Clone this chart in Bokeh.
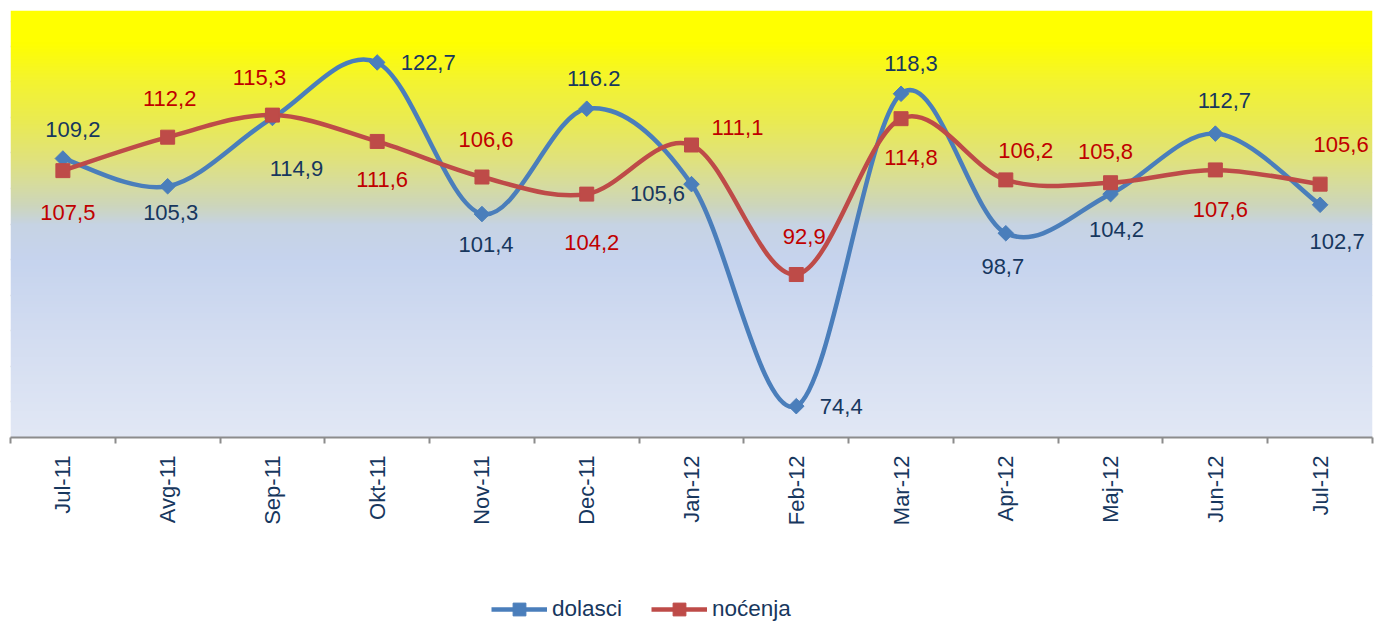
import math
import numpy as np
from bokeh.plotting import figure
from bokeh.layouts import column
from bokeh.models import (ColumnDataSource, FixedTicker, Legend, LegendItem,
                          Range1d, Grid)
from bokeh.core.properties import value
from bokeh.embed import file_html
from bokeh.resources import INLINE

# ---------------- data ----------------
months = ["Jul-11", "Avg-11", "Sep-11", "Okt-11", "Nov-11", "Dec-11", "Jan-12",
          "Feb-12", "Mar-12", "Apr-12", "Maj-12", "Jun-12", "Jul-12"]
dolasci = [109.2, 105.3, 114.9, 122.7, 101.4, 116.2, 105.6,
           74.4, 118.3, 98.7, 104.2, 112.7, 102.7]
nocenja = [107.5, 112.2, 115.3, 111.6, 106.6, 104.2, 111.1,
           92.9, 114.8, 106.2, 105.8, 107.6, 105.6]
dolasci_labels = ["109,2", "105,3", "114,9", "122,7", "101,4", "116.2", "105,6",
                  "74,4", "118,3", "98,7", "104,2", "112,7", "102,7"]
nocenja_labels = ["107,5", "112,2", "115,3", "111,6", "106,6", "104,2", "111,1",
                  "92,9", "114,8", "106,2", "105,8", "107,6", "105,6"]
series_names = ["dolasci", "noćenja"]
y_ticks = [75, 80, 85, 90, 95, 100, 105, 110, 115, 120, 125, 130]
y_min, y_max = 70, 130

# ---------------- styles ----------------
BLUE = "#4A7EBB"
RED = "#BE4B48"
NAVY = "#17375E"
LABEL_RED = "#C00000"
FONT = "Liberation Sans"

# label offsets in screen pixels (dx, dy; dy positive = down)
d_dx = [10, 3, 24, 51, 4, 7, -34, 45, 10, -3, 6, 9, 17]
d_dy = [-29, 26, 51, 0, 30, -30, 9, 0, -30, 33, 35, -33, 37]
n_dx = [5, 2, -13, 5, 4, 5, 46, 8, 10, 20, -5, 5, 21]
n_dy = [42, -39, -38, 38, -38, 48, -18, -38, 39, -29, -31, 40, -40]

# background gradient stops (fraction from top of plot area, colour)
grad_stops = [(0.0, "#FFFF00"), (0.075, "#FFFF00"), (0.164, "#F4F430"),
              (0.257, "#EAEB52"), (0.35, "#E0E27E"), (0.409, "#D6DCA0"),
              (0.456, "#CDD6BC"), (0.502, "#C6D3E4"), (0.584, "#C6D4EE"),
              (0.748, "#D2DCF1"), (1.0, "#E2E8F5")]

n = len(months)
xs = [i + 0.5 for i in range(n)]

p = figure(width=1374, height=528, x_range=Range1d(0, n), y_range=Range1d(y_min, y_max),
           output_backend="svg", toolbar_location=None, y_axis_location=None,
           min_border_left=10, min_border_right=2, min_border_top=10, min_border_bottom=90)
p.outline_line_color = None
p.background_fill_color = "white"
p.border_fill_color = "white"
p.xgrid.visible = False

# gradient background
N = 428
frac = 1.0 - (np.arange(N) + 0.5) / N
fs = [s[0] for s in grad_stops]
def ch(c, k):
    return int(c[1 + 2 * k:3 + 2 * k], 16)
img = np.empty((N, 1), dtype=np.uint32)
view = img.view(dtype=np.uint8).reshape((N, 1, 4))
for k in range(3):
    view[:, 0, k] = np.interp(frac, fs, [ch(s[1], k) for s in grad_stops]).astype(np.uint8)
view[:, 0, 3] = 255
p.image_rgba(image=[img], x=0, y=y_min, dw=n, dh=y_max - y_min)

p.add_layout(Grid(dimension=1, ticker=FixedTicker(ticks=y_ticks),
                  grid_line_color="#BFBFBF", grid_line_dash="7 4", grid_line_width=1.3))

# x axis
ax = p.xaxis[0]
ax.ticker = FixedTicker(ticks=xs, minor_ticks=list(range(n + 1)))
ax.major_label_overrides = {x: m for x, m in zip(xs, months)}
ax.major_label_orientation = math.pi / 2
ax.major_tick_out = 0
ax.major_tick_in = 0
ax.minor_tick_out = 6
ax.minor_tick_in = 0
ax.minor_tick_line_color = "#8C8C8C"
ax.minor_tick_line_width = 2
ax.axis_line_color = "#8C8C8C"
ax.axis_line_width = 2
ax.major_label_standoff = 12
ax.major_label_text_font = FONT
ax.major_label_text_font_size = "22px"
ax.major_label_text_color = NAVY


def smooth(xv, yv):
    P = np.column_stack([xv, yv]).astype(float)
    m = len(P)
    out = {k: [] for k in ["x0", "y0", "x1", "y1", "cx0", "cy0", "cx1", "cy1"]}
    for i in range(m - 1):
        p0 = P[max(i - 1, 0)]
        p1 = P[i]
        p2 = P[i + 1]
        p3 = P[min(i + 2, m - 1)]
        c1 = p1 + (p2 - p0) / 6.0
        c2 = p2 - (p3 - p1) / 6.0
        out["x0"].append(p1[0]); out["y0"].append(p1[1])
        out["x1"].append(p2[0]); out["y1"].append(p2[1])
        out["cx0"].append(c1[0]); out["cy0"].append(c1[1])
        out["cx1"].append(c2[0]); out["cy1"].append(c2[1])
    return ColumnDataSource(out)


p.bezier(x0="x0", y0="y0", x1="x1", y1="y1", cx0="cx0", cy0="cy0",
         cx1="cx1", cy1="cy1", source=smooth(xs, dolasci),
         line_color=BLUE, line_width=4.5)
p.bezier(x0="x0", y0="y0", x1="x1", y1="y1", cx0="cx0", cy0="cy0",
         cx1="cx1", cy1="cy1", source=smooth(xs, nocenja),
         line_color=RED, line_width=4.5)

p.scatter(xs, dolasci, marker="square", angle=math.pi / 4, size=11,
          fill_color=BLUE, line_color=BLUE)
p.scatter(xs, nocenja, marker="square", size=14,
          fill_color=RED, line_color=RED)

src_d = ColumnDataSource(dict(x=xs, y=dolasci, t=dolasci_labels, dx=d_dx, dy=d_dy))
src_n = ColumnDataSource(dict(x=xs, y=nocenja, t=nocenja_labels, dx=n_dx, dy=n_dy))
for src, col in [(src_d, NAVY), (src_n, LABEL_RED)]:
    p.text(x="x", y="y", text="t", x_offset="dx", y_offset="dy", source=src,
           text_align="center", text_baseline="middle",
           text_font=value(FONT), text_font_size="22px", text_color=col)

# legend strip: a small figure whose series lie outside its view, showing only the legend
pl = figure(width=1374, height=97, output_backend="svg", toolbar_location=None,
            x_axis_location=None, y_axis_location=None, min_border=0,
            x_range=Range1d(-3, -2), y_range=Range1d(0, 1))
pl.outline_line_color = None
pl.grid.visible = False
ld = pl.line(xs, dolasci, line_color=BLUE, line_width=4.5)
ldm = pl.scatter(xs, dolasci, marker="square", angle=math.pi / 4, size=11,
                 fill_color=BLUE, line_color=BLUE)
ln = pl.line(xs, nocenja, line_color=RED, line_width=4.5)
lnm = pl.scatter(xs, nocenja, marker="square", size=14, fill_color=RED, line_color=RED)
legend = Legend(items=[LegendItem(label=series_names[0], renderers=[ld, ldm]),
                       LegendItem(label=series_names[1], renderers=[ln, lnm])],
                orientation="horizontal", location=(481, 0),
                glyph_width=56, glyph_height=32, label_standoff=5, spacing=29,
                padding=0, margin=0, border_line_alpha=0, background_fill_alpha=0,
                label_text_font=FONT, label_text_font_size="22.5px",
                label_text_color=NAVY)
pl.add_layout(legend, "center")

layout = column(p, pl, spacing=0)
open("out.html", "w").write(file_html(layout, INLINE))
